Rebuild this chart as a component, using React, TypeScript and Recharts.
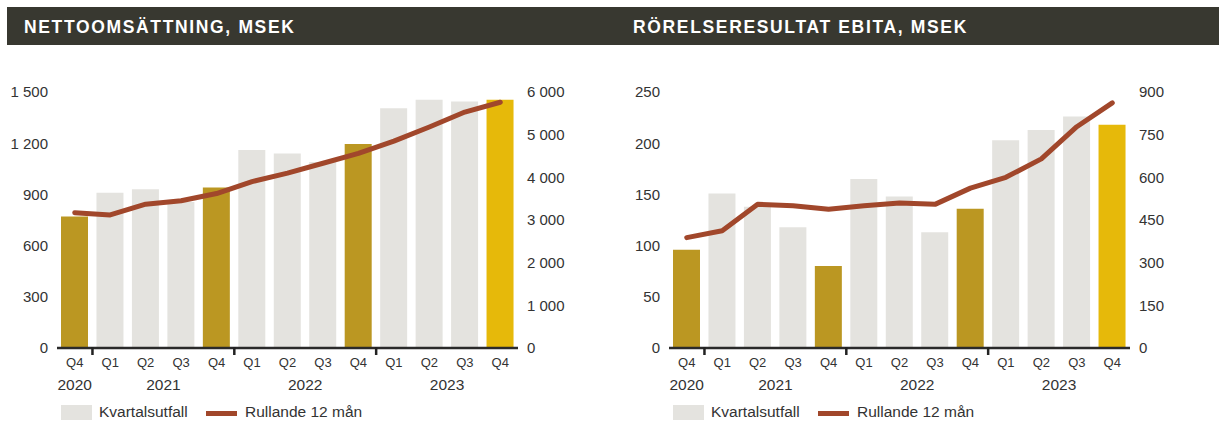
import { ComposedChart, Bar, Line, XAxis, YAxis, Cell } from "recharts";

const QUARTERS = ["Q4", "Q1", "Q2", "Q3", "Q4", "Q1", "Q2", "Q3", "Q4", "Q1", "Q2", "Q3", "Q4"];
const YEARS = ["2020", "2021", "2021", "2021", "2021", "2022", "2022", "2022", "2022", "2023", "2023", "2023", "2023"];

const SALES_QUARTER = [770, 910, 930, 855, 940, 1160, 1140, 1090, 1195, 1405, 1455, 1445, 1455];
const SALES_ROLLING = [3170, 3120, 3370, 3450, 3620, 3900, 4100, 4330, 4560, 4850, 5180, 5530, 5760];
const SALES_LEFT_TICKS = [0, 300, 600, 900, 1200, 1500];
const SALES_RIGHT_TICKS = [0, 1000, 2000, 3000, 4000, 5000, 6000];

const EBITA_QUARTER = [96, 151, 138, 118, 80, 165, 148, 113, 136, 203, 213, 226, 218];
const EBITA_ROLLING = [388, 412, 505, 500, 488, 500, 510, 505, 562, 600, 665, 778, 862];
const EBITA_LEFT_TICKS = [0, 50, 100, 150, 200, 250];
const EBITA_RIGHT_TICKS = [0, 150, 300, 450, 600, 750, 900];

const FONT = '"Liberation Sans", Arial, Helvetica, sans-serif';
const TEXT = "#333333";
const GRAY = "#E4E3DF";
const GOLD = "#BB9722";
const GOLD_BRIGHT = "#E6B90A";
const RUST = "#A1472B";

const fmt = (v: number) => String(v).replace(/\B(?=(\d{3})+(?!\d))/g, " ");

function barColor(i: number) {
  if (i === QUARTERS.length - 1) return GOLD_BRIGHT;
  if (QUARTERS[i] === "Q4") return GOLD;
  return GRAY;
}

function QuarterTick(props: any) {
  const { x, y, payload, index } = props;
  const half = payload.offset ?? 17.75;
  const year = YEARS[index];
  const first = index === 0 || YEARS[index - 1] !== year;
  let last = index;
  while (last + 1 < YEARS.length && YEARS[last + 1] === year) last++;
  return (
    <g>
      <text x={x} y={y + 19} textAnchor="middle" fontSize={13} fill={TEXT} fontFamily={FONT}>
        {QUARTERS[index]}
      </text>
      {first && (
        <text
          x={x + (last - index) * half}
          y={y + 42}
          textAnchor="middle"
          fontSize={15.5}
          fill={TEXT}
          fontFamily={FONT}
        >
          {year}
        </text>
      )}
      {first && index > 0 && (
        <line x1={x - half} x2={x - half} y1={y - 1} y2={y + 7} stroke="#222" strokeWidth={2.5} />
      )}
    </g>
  );
}

function Panel({
  left, titleLeft, title, bars, line, leftTicks, rightTicks,
}: {
  left: number;
  titleLeft: number;
  title: string;
  bars: number[];
  line: number[];
  leftTicks: number[];
  rightTicks: number[];
}) {
  const data = QUARTERS.map((q, i) => ({ name: q + " " + YEARS[i], bar: bars[i], line: line[i] }));
  const tick = { fontSize: 15, fill: TEXT, fontFamily: FONT };
  return (
    <>
      <div
        style={{
          position: "absolute", left: titleLeft, top: 8, height: 38, lineHeight: "38px",
          color: "#fff", fontWeight: 700, fontSize: 17.5, letterSpacing: 1.65, fontFamily: FONT,
          whiteSpace: "nowrap",
        }}
      >
        {title}
      </div>
      <div style={{ position: "absolute", left, top: 0 }}>
        <ComposedChart
          width={600}
          height={421}
          data={data}
          margin={{ top: 92, right: 0, left: 0, bottom: 0 }}
          barSize={27}
        >
          <XAxis
            dataKey="name"
            height={73}
            interval={0}
            tickLine={false}
            tickSize={0}
            tickMargin={0}
            axisLine={{ stroke: "#2a2a2a", strokeWidth: 2.5 }}
            tick={<QuarterTick />}
          />
          <YAxis
            yAxisId="l"
            width={57}
            domain={[leftTicks[0], leftTicks[leftTicks.length - 1]]}
            ticks={leftTicks}
            axisLine={false}
            tickLine={false}
            tickMargin={3}
            tick={tick}
            tickFormatter={fmt}
          />
          <YAxis
            yAxisId="r"
            orientation="right"
            width={82}
            domain={[rightTicks[0], rightTicks[rightTicks.length - 1]]}
            ticks={rightTicks}
            axisLine={false}
            tickLine={false}
            tickMargin={3}
            tick={{ ...tick, textAnchor: "start" }}
            tickFormatter={fmt}
          />
          <Bar yAxisId="l" dataKey="bar" isAnimationActive={false}>
            {data.map((_, i) => (
              <Cell key={i} fill={barColor(i)} />
            ))}
          </Bar>
          <Line
            yAxisId="r"
            dataKey="line"
            type="linear"
            stroke={RUST}
            strokeWidth={5}
            strokeLinecap="round"
            strokeLinejoin="round"
            dot={false}
            activeDot={false}
            isAnimationActive={false}
          />
        </ComposedChart>
      </div>
      <div style={{ position: "absolute", left: left + 61, top: 405, width: 31, height: 15, background: GRAY }} />
      <div
        style={{
          position: "absolute", left: left + 99, top: 402, fontSize: 15.5, lineHeight: "20px",
          color: TEXT, fontFamily: FONT,
        }}
      >
        Kvartalsutfall
      </div>
      <div style={{ position: "absolute", left: left + 206, top: 411, width: 31, height: 4.5, background: RUST }} />
      <div
        style={{
          position: "absolute", left: left + 245, top: 402, fontSize: 15.5, lineHeight: "20px",
          color: TEXT, fontFamily: FONT,
        }}
      >
        Rullande 12 mån
      </div>
    </>
  );
}

export default function App() {
  return (
    <div
      style={{
        position: "absolute", left: 0, top: 0, width: 1222, height: 421,
        background: "#fff", overflow: "hidden", fontFamily: FONT,
      }}
    >
      <div style={{ position: "absolute", left: 7, top: 7, width: 1212, height: 38, background: "#383830" }} />
      <Panel
        left={0}
        titleLeft={24}
        title="NETTOOMSÄTTNING, MSEK"
        bars={SALES_QUARTER}
        line={SALES_ROLLING}
        leftTicks={SALES_LEFT_TICKS}
        rightTicks={SALES_RIGHT_TICKS}
      />
      <Panel
        left={612}
        titleLeft={633}
        title="RÖRELSERESULTAT EBITA, MSEK"
        bars={EBITA_QUARTER}
        line={EBITA_ROLLING}
        leftTicks={EBITA_LEFT_TICKS}
        rightTicks={EBITA_RIGHT_TICKS}
      />
    </div>
  );
}
